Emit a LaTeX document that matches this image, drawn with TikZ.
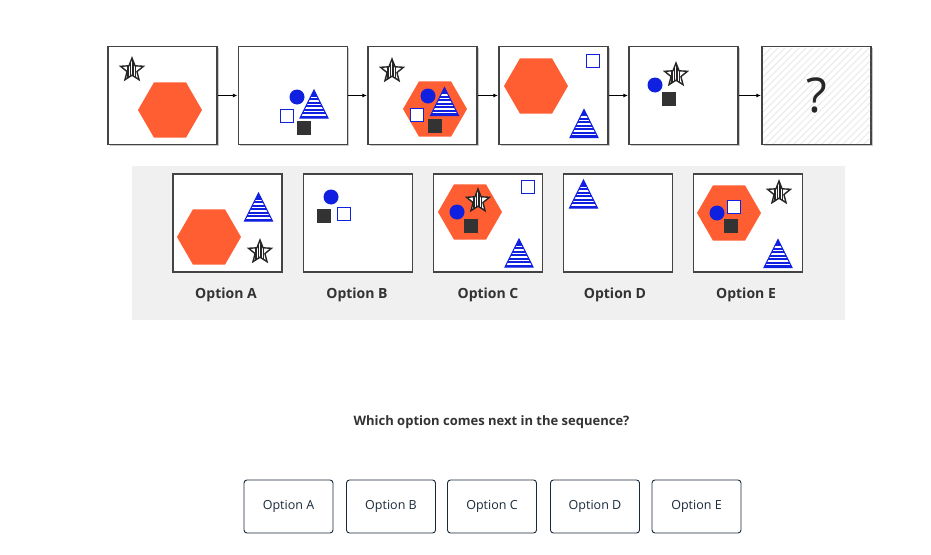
\documentclass[tikz,border=0pt]{standalone}
\usepackage{fontspec}
\setmainfont{Open Sans}
\usetikzlibrary{shadows,arrows.meta}
\definecolor{hexc}{RGB}{255,94,51}
\definecolor{shpblue}{RGB}{16,32,224}
\definecolor{dsq}{RGB}{51,51,51}
\definecolor{panel}{RGB}{240,240,240}
\definecolor{framec}{RGB}{68,68,68}
\definecolor{btnc}{RGB}{26,42,58}
\definecolor{txtc}{RGB}{51,51,51}
\tikzset{
  frame/.style={draw=framec, line width=1.3pt, fill=white, minimum width=109pt,
    minimum height=98pt, inner sep=0pt,
    drop shadow={shadow xshift=1.5pt, shadow yshift=-1.5pt, opacity=0.35, fill=black!60}},
  optframe/.style={draw=framec, line width=1.3pt, fill=white, minimum width=109pt,
    minimum height=98pt, inner sep=0pt},
  optlabel/.style={text=txtc, font=\bfseries\fontsize{14}{16}\selectfont},
  button/.style={draw=btnc, line width=0.9pt, rounded corners=3pt, fill=white,
    minimum width=89pt, minimum height=53pt, inner sep=0pt, text=btnc,
    font=\fontsize{12.5}{14}\selectfont},
  seqarrow/.style={-{Latex[length=4.5pt,width=4pt]}, line width=0.8pt, shorten >=0.5pt},
  pics/hexa/.style={code={\fill[hexc] (-32,0)--(-16,-27.7)--(16,-27.7)--(32,0)--(16,27.7)--(-16,27.7)--cycle;}},
  pics/dot/.style={code={\fill[shpblue] (0,0) circle (7.5);}},
  pics/hsq/.style={code={\draw[shpblue, line width=1pt, fill=white] (-6.5,-6.5) rectangle (6.5,6.5);}},
  pics/bsq/.style={code={\fill[dsq] (-7,-7) rectangle (7,7);}},
  pics/stri/.style={code={
    \begin{scope}
      \clip (0,-14)--(14,14)--(-14,14)--cycle;
      \fill[shpblue] (-15,-15) rectangle (15,15);
      \foreach \yy in {-6.5,-3,...,12} \draw[white, line width=1.4pt] (-15,\yy)--(15,\yy);
    \end{scope}
    \draw[shpblue, line width=1pt, line join=miter] (0,-14)--(14,14)--(-14,14)--cycle;
  }},
  pics/mystar/.style={code={
    \path[fill=white] (-90:12)--(-54:5.2)--(-18:12)--(18:5.2)--(54:12)--(90:5.2)--(126:12)--(162:5.2)--(198:12)--(234:5.2)--cycle;
    \begin{scope}
      \clip (-90:12)--(-54:5.2)--(-18:12)--(18:5.2)--(54:12)--(90:5.2)--(126:12)--(162:5.2)--(198:12)--(234:5.2)--cycle;
      \foreach \xx in {-4,-1.5,1,3.5} \draw[black!85, line width=1.1pt] (\xx,-13)--(\xx,13);
    \end{scope}
    \draw[black!85, line width=1.4pt, line join=miter] (-90:12)--(-54:5.2)--(-18:12)--(18:5.2)--(54:12)--(90:5.2)--(126:12)--(162:5.2)--(198:12)--(234:5.2)--cycle;
  }}
}
\begin{document}
\begin{tikzpicture}[x=1pt,y=-1pt]
\useasboundingbox (0,0) rectangle (931,554);
\fill[white] (0,0) rectangle (931,554);
% sequence frames
\node[frame] (f1) at (162.5,95.5) {};
\node[frame] (f2) at (293,95.5) {};
\node[frame] (f3) at (422.5,95.5) {};
\node[frame] (f4) at (553.5,95.5) {};
\node[frame] (f5) at (683.5,95.5) {};
\node[frame] (f6) at (816.5,95.5) {};
\draw[seqarrow] (f1.east) -- (f2.west);
\draw[seqarrow] (f2.east) -- (f3.west);
\draw[seqarrow] (f3.east) -- (f4.west);
\draw[seqarrow] (f4.east) -- (f5.west);
\draw[seqarrow] (f5.east) -- (f6.west);
% frame 1
\pic at (170,110) {hexa};
\pic at (132,70) {mystar};
% frame 2
\pic at (297,97) {dot};
\pic at (314,104) {stri};
\pic at (287,116) {hsq};
\pic at (304,128) {bsq};
% frame 3
\pic at (435,109) {hexa};
\pic at (392,71) {mystar};
\pic at (428,96) {dot};
\pic at (444.5,101.5) {stri};
\pic at (417,114.5) {hsq};
\pic at (434.5,126) {bsq};
% frame 4
\pic at (536,86) {hexa};
\pic at (592.5,60.5) {hsq};
\pic at (584,123.5) {stri};
% frame 5
\pic at (655,85) {dot};
\pic at (676,75) {mystar};
\pic at (669,98.5) {bsq};
% frame 6 hatch
\begin{scope}
  \clip (763,48) rectangle (870,143);
  \foreach \k in {-110,-103,...,110} \draw[black!9, line width=0.8pt] (762+\k,146) -- (762+\k+110,36);
\end{scope}
\node[font=\fontsize{48}{50}\selectfont, text=black!85] (qm) at (f6.center) {?};
% options panel
\fill[panel] (132,166) rectangle (845,320);
\node[optframe] (oa) at (227.5,223) {};
\node[optframe] (ob) at (358,223) {};
\node[optframe] (oc) at (488,223) {};
\node[optframe] (od) at (618,223) {};
\node[optframe] (oe) at (748,223) {};
% option A
\pic at (209,237) {hexa};
\pic at (258.5,207) {stri};
\pic at (260,252) {mystar};
% option B
\pic at (331,197) {dot};
\pic at (324,215.5) {bsq};
\pic at (343.5,213.5) {hsq};
% option C
\pic at (470,212) {hexa};
\pic at (478,201) {mystar};
\pic at (457,212) {dot};
\pic at (471,226) {bsq};
\pic at (527.5,187) {hsq};
\pic at (519,253) {stri};
% option D
\pic at (583.5,194) {stri};
% option E
\pic at (729,213) {hexa};
\pic at (717,213) {dot};
\pic at (734,206.5) {hsq};
\pic at (730.5,226) {bsq};
\pic at (779,193) {mystar};
\pic at (778,253.5) {stri};
% option labels
\node[optlabel] (la) at (226,295) {Option A};
\node[optlabel] (lb) at (357,295) {Option B};
\node[optlabel] (lc) at (488,295) {Option C};
\node[optlabel] (ld) at (615,295) {Option D};
\node[optlabel] (le) at (746,295) {Option E};
% question
\node[text=txtc, font=\bfseries\fontsize{13}{15}\selectfont] (q) at (491.5,422) {Which option comes next in the sequence?};
% buttons
\node[button] (ba) at (288.5,506.5) {Option A};
\node[button] (bb) at (391,506.5) {Option B};
\node[button] (bc) at (492,506.5) {Option C};
\node[button] (bd) at (595,506.5) {Option D};
\node[button] (be) at (696.5,506.5) {Option E};
\end{tikzpicture}
\end{document}
